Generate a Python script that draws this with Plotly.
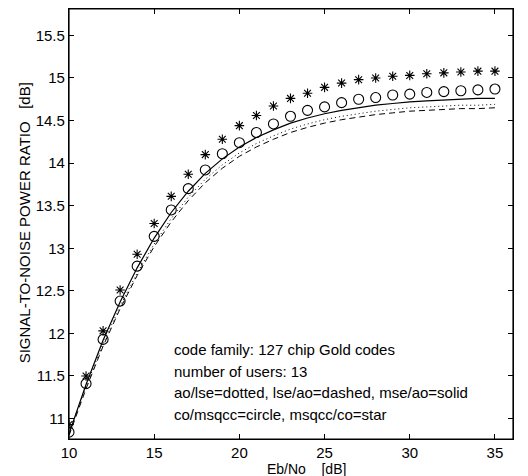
import plotly.graph_objects as go

ebno = list(range(10, 36))

star_msqcc_co = [10.93, 11.50, 12.03, 12.51, 12.93, 13.29, 13.61, 13.87, 14.10, 14.28,
                 14.44, 14.56, 14.67, 14.76, 14.82, 14.89, 14.94, 14.98, 15.00, 15.02,
                 15.03, 15.05, 15.06, 15.07, 15.08, 15.08]
circle_co_msqcc = [10.84, 11.41, 11.93, 12.38, 12.79, 13.14, 13.45, 13.70, 13.92, 14.11,
                   14.24, 14.36, 14.46, 14.55, 14.62, 14.66, 14.71, 14.75, 14.77, 14.80,
                   14.81, 14.83, 14.84, 14.85, 14.86, 14.87]
solid_mse_ao = [10.82, 11.40, 11.92, 12.37, 12.77, 13.12, 13.42, 13.67, 13.88, 14.05,
                14.19, 14.30, 14.39, 14.47, 14.53, 14.58, 14.62, 14.65, 14.68, 14.70,
                14.72, 14.73, 14.74, 14.75, 14.76, 14.76]
dotted_ao_lse = [10.83, 11.38, 11.88, 12.32, 12.71, 13.05, 13.35, 13.60, 13.81, 13.98,
                 14.12, 14.23, 14.32, 14.40, 14.46, 14.51, 14.55, 14.58, 14.61, 14.63,
                 14.65, 14.66, 14.67, 14.68, 14.68, 14.69]
dashed_lse_ao = [10.80, 11.35, 11.85, 12.29, 12.68, 13.02, 13.31, 13.56, 13.77, 13.94,
                 14.08, 14.19, 14.28, 14.36, 14.42, 14.47, 14.51, 14.54, 14.57, 14.59,
                 14.61, 14.62, 14.63, 14.64, 14.64, 14.65]

x_ticks = [10, 15, 20, 25, 30, 35]
y_ticks = [11, 11.5, 12, 12.5, 13, 13.5, 14, 14.5, 15, 15.5]
y_tick_labels = ["11", "11.5", "12", "12.5", "13", "13.5", "14", "14.5", "15", "15.5"]

notes = [
    "code family: 127 chip Gold codes",
    "number of users: 13",
    "ao/lse=dotted, lse/ao=dashed, mse/ao=solid",
    "co/msqcc=circle, msqcc/co=star",
]

FONT = "Liberation Sans, Arial, Helvetica, sans-serif"

fig = go.Figure()
fig.add_trace(go.Scatter(x=ebno, y=dashed_lse_ao, mode="lines",
                         line=dict(color="black", width=1, dash="6px,4px"), name="lse/ao"))
fig.add_trace(go.Scatter(x=ebno, y=dotted_ao_lse, mode="lines",
                         line=dict(color="black", width=1, dash="1px,3px"), name="ao/lse"))
fig.add_trace(go.Scatter(x=ebno, y=solid_mse_ao, mode="lines",
                         line=dict(color="black", width=1.2), name="mse/ao"))
fig.add_trace(go.Scatter(x=ebno, y=circle_co_msqcc, mode="markers",
                         marker=dict(symbol="circle-open", size=10, color="black",
                                     line=dict(width=1.1, color="black")), name="co/msqcc"))
fig.add_trace(go.Scatter(x=ebno, y=star_msqcc_co, mode="markers",
                         marker=dict(symbol="asterisk-open", size=8, color="black",
                                     line=dict(width=1.1, color="black")), name="msqcc/co"))

ann = []
y_positions = [0.207, 0.157, 0.107, 0.058]
for t, yp in zip(notes, y_positions):
    ann.append(dict(text=t, xref="paper", yref="paper", x=0.232, y=yp,
                    xanchor="left", yanchor="middle", showarrow=False,
                    font=dict(family=FONT, size=15, color="black")))
ann.append(dict(text="Eb/No&nbsp;&nbsp;&nbsp;&nbsp;[dB]", xref="paper", yref="paper",
                x=0.535, y=-0.0698, xanchor="center", yanchor="middle", showarrow=False,
                borderpad=0, font=dict(family=FONT, size=14, color="black")))
ann.append(dict(text="SIGNAL-TO-NOISE POWER RATIO&nbsp;&nbsp;&nbsp;[dB]", xref="paper",
                yref="paper", x=-0.1, y=0.503, xanchor="center", yanchor="middle",
                textangle=-90, showarrow=False,
                font=dict(family=FONT, size=15, color="black")))

fig.update_layout(
    width=528, height=476,
    margin=dict(l=69, r=15, t=9, b=37, pad=0),
    paper_bgcolor="white", plot_bgcolor="white",
    showlegend=False,
    font=dict(family=FONT, size=15, color="black"),
    annotations=ann,
    shapes=[dict(type="rect", xref="paper", yref="paper", x0=0, y0=0, x1=1, y1=1,
                 line=dict(color="black", width=1.2), layer="above")],
    xaxis=dict(range=[10, 36.06], tickvals=x_ticks, ticks="inside", ticklen=5,
               tickcolor="black", showgrid=False, zeroline=False, showline=True,
               linecolor="black", linewidth=1.2, mirror="ticks",
               tickfont=dict(family=FONT, size=15, color="black")),
    yaxis=dict(range=[10.76, 15.81], tickvals=y_ticks, ticktext=y_tick_labels,
               ticks="inside", ticklen=5, tickcolor="black", showgrid=False,
               zeroline=False, showline=True, linecolor="black", linewidth=1.2,
               mirror="ticks", tickfont=dict(family=FONT, size=15, color="black")),
)

fig.write_html("out.html", config={"displayModeBar": False},
               post_script="document.body.style.margin='0';document.body.style.overflow='hidden';")
